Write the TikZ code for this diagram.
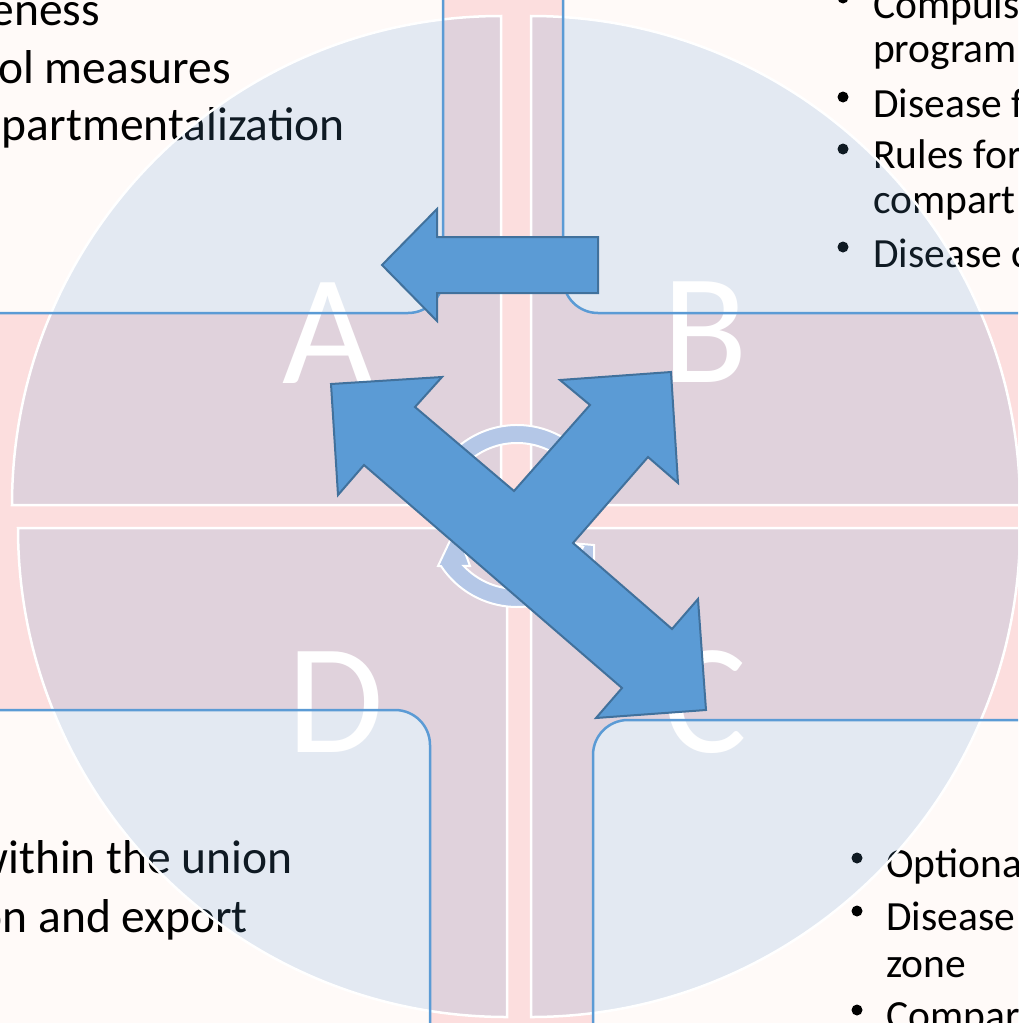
\documentclass[tikz,border=0pt]{standalone}
\usepackage{fontspec}
\setmainfont{Carlito}
\usepackage{tikz}

\definecolor{SlideWhite}{HTML}{FFFAF8}
\definecolor{BandPink}{HTML}{FCDEDE}
\definecolor{AccentBlue}{HTML}{5B9BD5}
\definecolor{EdgeBlue}{HTML}{41719C}
\definecolor{CycleBlue}{HTML}{B4C7E7}

\newcommand{\listsize}{\fontsize{41.5}{45}\selectfont}
\newcommand{\sidesize}{\fontsize{47.5}{52}\selectfont}
\newcommand{\lettersize}{\fontsize{157}{160}\selectfont}

\begin{document}
\begin{tikzpicture}[x = 1pt, y = -1pt,
    boxfill/.style = {fill = SlideWhite, rounded corners = 35pt},
    boxline/.style = {draw = AccentBlue, line width = 2.5pt, rounded corners = 35pt},
    quadrant/.style = {fill = AccentBlue, fill opacity = 0.17, draw = white, draw opacity = 1, line width = 2.5pt},
    letter/.style = {anchor = base, inner sep = 0pt, text = white, font = \lettersize},
    lefttext/.style = {anchor = base east, inner sep = 0pt, font = \sidesize},
    listtext/.style = {anchor = base west, inner sep = 0pt, font = \listsize},
    cyclearc/.style = {fill = CycleBlue, draw = white, line width = 2pt},
    bigarrow/.style = {fill = AccentBlue, draw = EdgeBlue, line width = 2pt, line join = miter}]
  \useasboundingbox (0,0) rectangle (1018,1023);
  \clip (0,0) rectangle (1018,1023);
  \fill [fill = BandPink] (0,0) rectangle (1018,1023);
  % outer boxes
  \fill [boxfill] (-60,-60) rectangle (443,313);
  \fill [boxfill] (563,-60) rectangle (1080,313);
  \fill [boxfill] (-60,710) rectangle (430,1080);
  \fill [boxfill] (593,720) rectangle (1080,1080);
  % box texts
  \node [lefttext] (tl1) at (100,25) {eness};
  \node [lefttext] (tl2) at (231,83) {ol measures};
  \node [lefttext] (tl3) at (345,140) {partmentalization};
  \node [lefttext] (bl1) at (293,873) {within the union};
  \node [lefttext] (bl2) at (248,932) {on and export};
  \node [listtext] (tr1) at (873,18) {Compuls};
  \node [listtext] (tr2) at (873,62) {program};
  \node [listtext] (tr3) at (873,117) {Disease f};
  \node [listtext] (tr4) at (873,168) {Rules for};
  \node [listtext] (tr5) at (873,213) {compart};
  \node [listtext] (tr6) at (873,267) {Disease c};
  \node [listtext] (br1) at (886,877) {Optiona};
  \node [listtext] (br2) at (886,930) {Disease};
  \node [listtext] (br3) at (886,977) {zone};
  \node [listtext] (br4) at (886,1029) {Compar};
  \foreach \bx/\by in {843/-2, 843/97, 843/149, 843/247, 857/858, 857/911, 857/1010}
    \fill [fill = black] (\bx,\by) circle (5.5);
  % quarter circles
  \foreach \cx/\cy/\a in {501/505/180, 531/505/270, 531/528/0, 507/528/90}
    \draw [quadrant] (\cx,\cy) -- ++(\a:489) arc [start angle = \a, end angle = \a+90, radius = 489] -- cycle;
  % letters
  \foreach \ch/\px/\py in {A/328/383, B/705/382, C/705/752, D/336/752}
    \node [letter] (\ch) at (\px,\py) {\ch};
  \draw [boxline] (-60,-60) rectangle (443,313);
  \draw [boxline] (563,-60) rectangle (1080,313);
  \draw [boxline] (-60,710) rectangle (430,1080);
  \draw [boxline] (593,720) rectangle (1080,1080);
  % cycle arrows in the middle
  \begin{scope}[shift = {(517,516)}]
    \draw [cyclearc] (205:91) arc [start angle = 205, end angle = 330, radius = 91]
      -- (330:73) arc [start angle = 330, end angle = 205, radius = 73] -- cycle;
    \draw [cyclearc] (77,29) -- (32.2:91) arc [start angle = 32.2, end angle = 146.6, radius = 91]
      -- (-79,50) -- (-61,12) -- (-47,50) -- (136.8:73)
      arc [start angle = 136.8, end angle = 25, radius = 73] -- (53,27) -- cycle;
  \end{scope}
  % block arrows
  \draw [bigarrow] (382,265) -- (437,209) -- (437,237) -- (598,237) -- (598,293) -- (437,293) -- (437,321) -- cycle;
  \draw [bigarrow] (331,384) -- (442,377) -- (415,407) -- (514,491) -- (590,405) -- (560,380)
    -- (671,372) -- (678,483) -- (648,457) -- (573,543) -- (672,629) -- (698,599)
    -- (706,710) -- (596,718) -- (622,688) -- (364,465) -- (338,495) -- cycle;
\end{tikzpicture}
\end{document}
